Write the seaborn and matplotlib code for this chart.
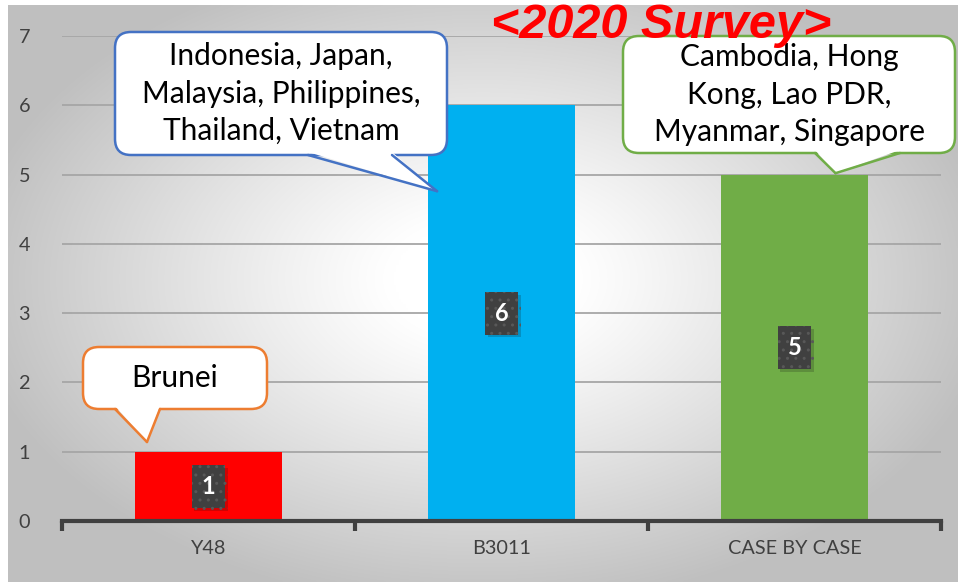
import numpy as np
import pandas as pd
import matplotlib
matplotlib.use("Agg")
import matplotlib.pyplot as plt
import seaborn as sns
from matplotlib.patches import FancyBboxPatch, Polygon
from matplotlib.transforms import IdentityTransform
import matplotlib.patheffects as pe

# ---- data ----
categories = ["Y48", "B3011", "CASE BY CASE"]
counts = [1, 6, 5]
bar_colors = ["#FF0000", "#00B0F0", "#70AD47"]
callout_texts = ["Brunei",
                 "Indonesia, Japan,\nMalaysia, Philippines,\nThailand, Vietnam",
                 "Cambodia, Hong\nKong, Lao PDR,\nMyanmar, Singapore"]
callout_colors = ["#ED7D31", "#4472C4", "#70AD47"]
title_text = "<2020 Survey>"
yticks = list(range(0, 8))

df = pd.DataFrame({"category": categories, "count": counts})

sns.set_theme(style="white")
plt.rcParams["font.family"] = ["Lato", "DejaVu Sans"]

W, H = 958, 582
fig = plt.figure(figsize=(W / 100, H / 100), dpi=100)
fig.patch.set_facecolor("white")

# gradient background panel
bg = fig.add_axes([8 / W, 0, 950 / W, 577 / H], zorder=0)
nx, ny = 400, 250
xx, yy = np.meshgrid(np.linspace(-1, 1, nx), np.linspace(-1, 1, ny))
r = np.sqrt((xx / 0.95) ** 2 + ((yy + 0.05) / 1.0) ** 2)
g = 1 - 0.25 * np.clip((r - 0.2) / 0.95, 0, 1) ** 1.1
bg.imshow(np.dstack([g, g, g]), aspect="auto", extent=[0, 1, 0, 1], interpolation="bilinear")
bg.set_axis_off()

ax = fig.add_axes([62 / W, 61 / H, 879 / W, 485 / H], zorder=1)
ax.patch.set_alpha(0)

sns.barplot(data=df, x="category", y="count", hue="category", palette=bar_colors,
            width=0.5, dodge=False, legend=False, ax=ax, saturation=1, zorder=3,
            edgecolor="none", linewidth=0)

ax.set_xlim(-0.5, 2.5)
ax.set_ylim(0, 7)
ax.set_yticks(yticks)
ax.set_xlabel("")
ax.set_ylabel("")
ax.yaxis.grid(True, color="#a6a6a6", linewidth=1.3, zorder=0)
ax.set_axisbelow(True)
for s in ["left", "right", "top"]:
    ax.spines[s].set_visible(False)
ax.spines["bottom"].set_color("#404040")
ax.spines["bottom"].set_linewidth(3)
ax.spines["bottom"].set_zorder(4)
ax.tick_params(axis="x", which="major", length=0, pad=14, labelsize=14.3, labelcolor="#404040")
ax.tick_params(axis="y", length=0, pad=23, labelsize=14.3, labelcolor="#404040")
ax.set_xticks([-0.5, 0.5, 1.5, 2.5], minor=True)
ax.tick_params(axis="x", which="minor", bottom=True, length=7, width=3, color="#404040",
               direction="out")

# data labels
for i, v in enumerate(counts):
    t = ax.text(i, v / 2, str(v), ha="center", va="center", color="white",
                fontsize=17, fontweight="bold", zorder=6,
                bbox=dict(boxstyle="square,pad=0.42", fc="#404040", ec="#585858",
                          lw=0, hatch=".."))
    t.get_bbox_patch().set_path_effects([pe.SimplePatchShadow(offset=(2, -2), alpha=0.2),
                                         pe.Normal()])

fig.canvas.draw()


def to_disp(x, y):
    return ax.transData.transform((x, y))


def px2data(px, py):
    return (px - 62) / 293 - 0.5, (521 - py) / (485 / 7)


def callout(box_px, base_px, tip_data, color, text, fs):
    (x0, y0), (x1, y1) = px2data(box_px[0], box_px[1]), px2data(box_px[2], box_px[3])
    d0 = to_disp(x0, y1)
    d1 = to_disp(x1, y0)
    w, h = d1[0] - d0[0], d1[1] - d0[1]
    box = FancyBboxPatch((d0[0], d0[1]), w, h, boxstyle="round,pad=0,rounding_size=16",
                         transform=IdentityTransform(), fc="white", ec=color, lw=1.8,
                         zorder=10)
    fig.add_artist(box)
    bx0 = to_disp(*px2data(base_px[0], base_px[2]))
    bx1 = to_disp(*px2data(base_px[1], base_px[2]))
    tip = to_disp(*tip_data)
    inner = 3 if base_px[2] > (box_px[1] + box_px[3]) / 2 else -3
    wedge = Polygon([[bx0[0], bx0[1] + inner], [tip[0], tip[1]], [bx1[0], bx1[1] + inner]],
                    closed=True, transform=IdentityTransform(), fc="white", ec="none",
                    zorder=11)
    fig.add_artist(wedge)
    for b in (bx0, bx1):
        fig.add_artist(plt.Line2D([b[0], tip[0]], [b[1], tip[1]], color=color, lw=1.8,
                                  transform=IdentityTransform(), zorder=12,
                                  solid_capstyle="round"))
    cx, cy = (d0[0] + d1[0]) / 2, (d0[1] + d1[1]) / 2
    fig.text(cx / fig.dpi / fig.get_figwidth(), cy / fig.dpi / fig.get_figheight(), text,
             ha="center", va="center", fontsize=fs, color="black", zorder=13,
             linespacing=1.4)


callout((83, 347, 267, 409), (115, 160, 409), (-0.21, 1.14), callout_colors[0],
        callout_texts[0], 21.5)
callout((115, 32, 447, 155), (308, 392, 155), (0.78, 4.76), callout_colors[1],
        callout_texts[1], 21.5)
callout((623, 36, 955, 153), (815, 900, 153), (2.14, 5.02), callout_colors[2],
        callout_texts[2], 21.5)

fig.text(661 / W, 1 - 26 / H, title_text, ha="center", va="center", color="#FF0000",
         fontsize=35, fontweight="bold", fontstyle="italic",
         family=["Liberation Sans", "DejaVu Sans"], zorder=14)

fig.savefig("out.png", dpi=100)
